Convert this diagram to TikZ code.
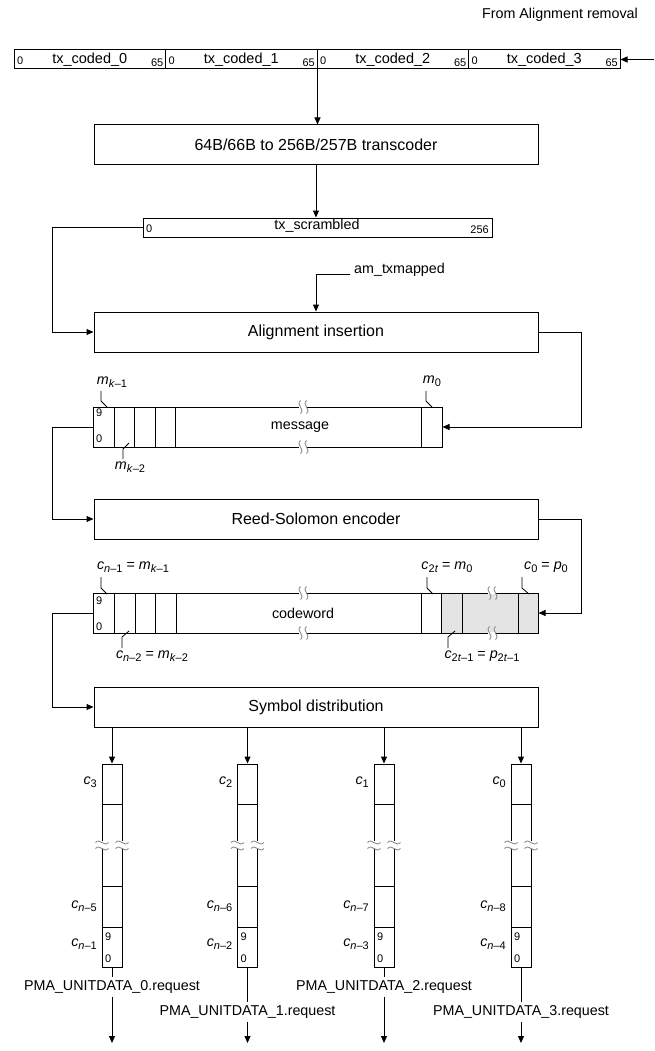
\documentclass[tikz,border=0pt]{standalone}
\usepackage{fontspec}
\setmainfont{Liberation Sans}
\usetikzlibrary{arrows.meta,calc}
\definecolor{parity}{RGB}{228,228,228}
\definecolor{brkc}{RGB}{140,140,140}
\newcommand{\sy}[2]{\textit{#1}\raisebox{-0.4ex}{\fontsize{11}{12}\selectfont #2}}
\newcommand{\brkH}[2]{%
  \fill[white] (#1-4,#2-1) rectangle (#1+4,#2+1);
  \draw[brk] (#1-2.5,#2-6.5) .. controls (#1-7.5,#2-2) and (#1+2.5,#2+2) .. (#1-2.5,#2+6.5);
  \draw[brk] (#1+3.5,#2-6.5) .. controls (#1-1.5,#2-2) and (#1+8.5,#2+2) .. (#1+3.5,#2+6.5);}
\newcommand{\brkV}[2]{%
  \fill[white] (#1-1,#2-4) rectangle (#1+1,#2+4);
  \draw[brk] (#1-6.5,#2-2.5) .. controls (#1-2,#2-7.5) and (#1+2,#2+2.5) .. (#1+6.5,#2-2.5);
  \draw[brk] (#1-6.5,#2+3.5) .. controls (#1-2,#2-1.5) and (#1+2,#2+8.5) .. (#1+6.5,#2+3.5);}
\begin{document}
\begin{tikzpicture}[x=1pt,y=-1pt,
  ln/.style={line width=1pt},
  arr/.style={ln,-{Triangle[length=7pt,width=6pt]}},
  brk/.style={line width=0.9pt,brkc},
  bigbox/.style={draw,ln,rectangle,inner sep=0pt,minimum width=444pt,minimum height=40pt,font=\fontsize{16}{19}\selectfont},
  cellbox/.style={draw,ln,rectangle,inner sep=0pt,minimum width=151.5pt,minimum height=19pt,font=\fontsize{14.5}{17}\selectfont},
  colbox/.style={draw,ln,rectangle,inner sep=0pt,minimum width=20pt,minimum height=203pt},
  lab/.style={font=\fontsize{14.3}{17}\selectfont,inner sep=0pt},
  pma/.style={font=\fontsize{14.3}{17}\selectfont,inner xsep=0pt,inner ysep=3pt},
  dig/.style={font=\fontsize{11}{12}\selectfont,inner sep=0pt},
  lead/.style={line width=0.8pt}]
\useasboundingbox (0,0) rectangle (654,1051);

% top bar
\node[lab] (fromar) at (560,15) {From Alignment removal};
\node[cellbox] (cell0) at (89.75,59.5) {tx\_coded\_0};
\node[cellbox] (cell1) at (241.25,59.5) {tx\_coded\_1};
\node[cellbox] (cell2) at (392.75,59.5) {tx\_coded\_2};
\node[cellbox] (cell3) at (544.25,59.5) {tx\_coded\_3};
\foreach \i/\l/\r in {0/14/165.5,1/165.5/317,2/317/468.5,3/468.5/620}{
  \node[dig,anchor=west] (z\i) at (\l+3,61) {0};
  \node[dig,anchor=east] (s\i) at (\r-2,62.5) {65};
}
\coordinate (inR) at (654,59.5);
\draw[arr] (inR) -- (cell3.east);

% transcoder
\node[bigbox] (trans) at (316,145) {64B/66B to 256B/257B transcoder};
\draw[arr] (cell1.south east) -- (cell1.south east |- trans.north);

% tx_scrambled
\node[draw,ln,rectangle,inner sep=0pt,minimum width=349pt,minimum height=19pt] (tsc) at (317.5,227.5) {};
\node[lab] (tsct) at (317,226) {tx\_scrambled};
\node[dig,anchor=west] (tsc0) at (146,229) {0};
\node[dig,anchor=east] (tsc256) at (489,230) {256};
\draw[arr] (trans.south) -- (trans.south |- tsc.north);

% alignment insertion
\node[bigbox] (align) at (316,332) {Alignment insertion};
\coordinate (Lx) at (52,0);
\coordinate (Rx) at (581,0);
\draw[arr] (tsc.west) -- (tsc.west -| Lx) -- (Lx |- align.west) -- (align.west);
\node[lab,anchor=west] (amtx) at (354,270) {am\_txmapped};
\coordinate (amS) at (350,274);
\draw[arr] (amS) -- (amS -| align.north) -- (align.north);

% message
\node[draw,ln,rectangle,inner sep=0pt,minimum width=349pt,minimum height=40pt] (msg) at (267.5,427) {};
\foreach \x in {114,134,155,175,421} \draw[ln] (\x,407) -- (\x,447);
\node[lab] (msgt) at (300,427) {message};
\node[dig,anchor=west] (m9) at (96,413) {9};
\node[dig,anchor=west] (m0) at (96,439) {0};
\brkH{303}{407}
\brkH{303}{447}
\draw[arr] (align.east) -- (align.east -| Rx) -- (Rx |- msg.east) -- (msg.east);
\node[lab] (mk1) at (112,382) {\sy{m}{\textit{k}–1}};
\draw[lead] (101,391) -- (101,401) -- (107,407);
\node[lab] (mzero) at (432,381) {\sy{m}{0}};
\draw[lead] (426,391) -- (426,401) -- (432,407);
\node[lab] (mk2) at (130,467) {\sy{m}{\textit{k}–2}};
\draw[lead] (123,459) -- (123,449) -- (129,443);

% Reed-Solomon encoder
\node[bigbox] (rs) at (316,519) {Reed-Solomon encoder};
\draw[arr] (msg.west) -- (msg.west -| Lx) -- (Lx |- rs.west) -- (rs.west);

% codeword
\fill[parity] (441,593) rectangle (538,633);
\node[draw,ln,rectangle,inner sep=0pt,minimum width=445pt,minimum height=40pt] (cw) at (315.5,613) {};
\foreach \x in {114,135,155,176,421,441,462,518} \draw[ln] (\x,593) -- (\x,633);
\node[lab] (cwt) at (303,613) {codeword};
\node[dig,anchor=west] (c9) at (96,601) {9};
\node[dig,anchor=west] (c0) at (96,627) {0};
\brkH{303}{593}
\brkH{303}{633}
\brkH{492}{593}
\brkH{492}{633}
\draw[arr] (rs.east) -- (rs.east -| Rx) -- (Rx |- cw.east) -- (cw.east);
\node[lab] (lcn1) at (133,567) {\sy{c}{\textit{n}–1} = \sy{m}{\textit{k}–1}};
\draw[lead] (101,577) -- (101,588) -- (107,594);
\node[lab] (lc2t) at (447,567) {\sy{c}{2\textit{t}} = \sy{m}{0}};
\draw[lead] (427,577) -- (427,588) -- (433,594);
\node[lab] (lc0) at (546,567) {\sy{c}{0} = \sy{p}{0}};
\draw[lead] (522,577) -- (522,588) -- (529,594);
\node[lab] (lcn2) at (152,656) {\sy{c}{\textit{n}–2} = \sy{m}{\textit{k}–2}};
\draw[lead] (122,648) -- (122,637) -- (129,631);
\node[lab] (lc2t1) at (482,656) {\sy{c}{2\textit{t}–1} = \sy{p}{2\textit{t}–1}};
\draw[lead] (448,648) -- (448,637) -- (455,631);

% symbol distribution
\node[bigbox] (sym) at (316,707) {Symbol distribution};
\draw[arr] (cw.west) -- (cw.west -| Lx) -- (Lx |- sym.west) -- (sym.west);

% columns
\foreach \k/\cx/\ta/\tb/\tc in {1/112/3/5/1, 2/247.5/2/6/2, 3/384/1/7/3, 4/521/0/8/4}{
  \node[colbox] (col\k) at (\cx,865.5) {};
  \draw[ln] (\cx-10,804) -- (\cx+10,804);
  \draw[ln] (\cx-10,886) -- (\cx+10,886);
  \draw[ln] (\cx-10,927) -- (\cx+10,927);
  \brkV{\cx-10}{845}
  \brkV{\cx+10}{845}
  \node[dig,anchor=west] (n9\k) at (\cx-7,937) {9};
  \node[dig,anchor=west] (n0\k) at (\cx-7,959) {0};
  \node[lab,anchor=east] (la\k) at (\cx-15,782) {\sy{c}{\ta}};
  \node[lab,anchor=east] (lb\k) at (\cx-15,906) {\sy{c}{\textit{n}–\tb}};
  \node[lab,anchor=east] (lc\k) at (\cx-15,944) {\sy{c}{\textit{n}–\tc}};
  \draw[arr] (col\k.north |- sym.south) -- (col\k.north);
}
\node[pma] (pma0) at (112,987) {PMA\_UNITDATA\_0.request};
\node[pma] (pma1) at (247.5,1012) {PMA\_UNITDATA\_1.request};
\node[pma] (pma2) at (384,987) {PMA\_UNITDATA\_2.request};
\node[pma] (pma3) at (521,1012) {PMA\_UNITDATA\_3.request};
\coordinate (o1) at (112,1043);
\coordinate (o2) at (247.5,1043);
\coordinate (o3) at (384,1043);
\coordinate (o4) at (521,1043);
\draw[ln] (col1.south) -- (pma0.north);
\draw[arr] (pma0.south) -- (o1);
\draw[ln] (col2.south) -- (pma1.north);
\draw[arr] (pma1.south) -- (o2);
\draw[ln] (col3.south) -- (pma2.north);
\draw[arr] (pma2.south) -- (o3);
\draw[ln] (col4.south) -- (pma3.north);
\draw[arr] (pma3.south) -- (o4);
\end{tikzpicture}
\end{document}
